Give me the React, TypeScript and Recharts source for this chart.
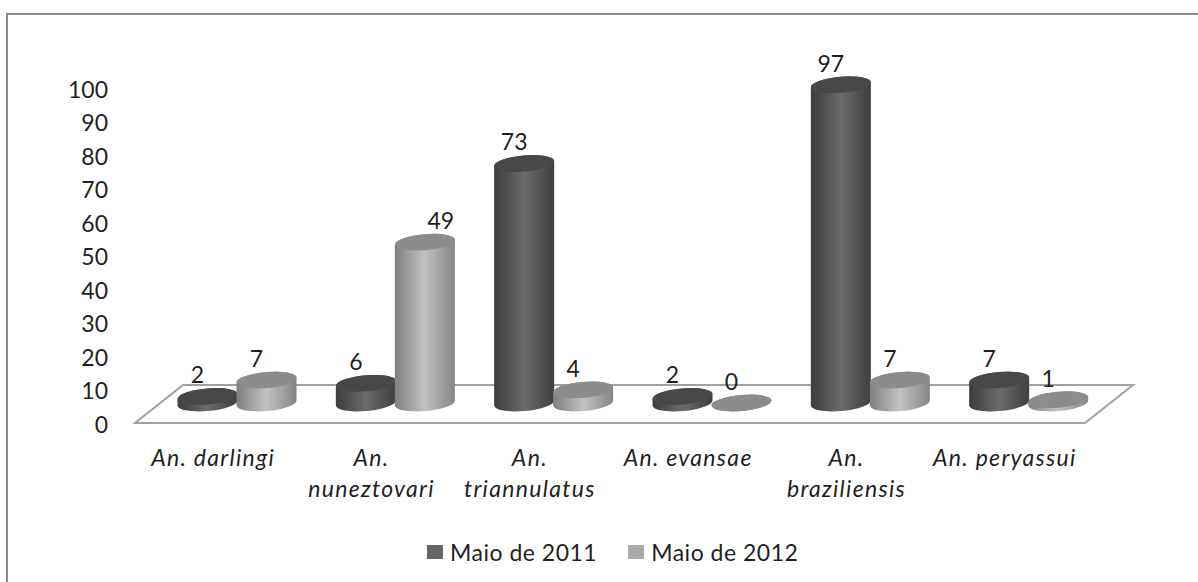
import React from "react";
import { ComposedChart, Bar, Line, XAxis, YAxis, LabelList, Legend } from "recharts";

const categories = ["An. darlingi", "An. nuneztovari", "An. triannulatus", "An. evansae", "An. braziliensis", "An. peryassui"];
const maio2011 = [2, 6, 73, 2, 97, 7];
const maio2012 = [7, 49, 4, 0, 7, 1];
const yTicks = [0, 10, 20, 30, 40, 50, 60, 70, 80, 90, 100];
const rows = categories.map((name, i) => ({ name, maio2011: maio2011[i], maio2012: maio2012[i] }));

const FONT = "Lato, 'Open Sans', sans-serif";
const TEXT = "#1f1f1f";
const RX = 30, RY = 8, TILT = -5, DY = 2.6;

function Cylinder(p: any) {
  const { x, y, width, height, grad, top } = p;
  const cx = x + width / 2, xl = cx - RX, xr = cx + RX;
  const yb = y + height;
  const d = `M${xl},${y + DY} L${xl},${yb + DY} A${RX},${RY} ${TILT} 0 0 ${xr},${yb - DY} L${xr},${y - DY} A${RX},${RY} ${TILT} 0 0 ${xl},${y + DY} Z`;
  return (
    <g>
      <path d={d} fill={`url(#${grad})`} />
      <ellipse cx={cx} cy={y} rx={RX} ry={RY} fill={top} transform={`rotate(${TILT} ${cx} ${y})`} />
    </g>
  );
}

function CatTick({ x, y, payload }: any) {
  const parts = String(payload.value).split(" ");
  const lines = parts[0].length + parts[1].length > 12 ? parts : [payload.value];
  return (
    <text x={x - 24} y={y} textAnchor="middle" fontFamily={FONT} fontStyle="italic" fontSize={23} letterSpacing={1.3} fill={TEXT}>
      {lines.map((l: string, i: number) => (
        <tspan key={i} x={x - 24} dy={i === 0 ? 0 : 31}>{l}</tspan>
      ))}
    </text>
  );
}

function NumTick({ x, y, payload }: any) {
  return (
    <text x={x + 10} y={y + 10} textAnchor="end" fontFamily={FONT} fontSize={23} fill={TEXT}>
      {payload.value}
    </text>
  );
}

const valueLabel = (p: any) => {
  const { x, y, width, value } = p;
  const shift = value === 49 ? 16 : -10;
  return (
    <text x={x + width / 2 + shift} y={y - 13} textAnchor="middle" fontFamily={FONT} fontSize={23} fill={TEXT}>
      {value}
    </text>
  );
};

function LegendBox({ payload }: any) {
  const items = (payload || []).filter((e: any) => e.type !== "none");
  return (
    <div style={{ display: "flex", fontFamily: FONT, fontSize: 23, letterSpacing: 0.5, color: TEXT, lineHeight: "26px" }}>
      {items.map((e: any) => (
        <div key={e.value} style={{ display: "flex", alignItems: "center", marginRight: 31 }}>
          <span style={{ width: 16, height: 14, background: e.color, marginRight: 7, display: "inline-block" }} />
          {e.value}
        </div>
      ))}
    </div>
  );
}

export default function App() {
  return (
    <div style={{ position: "absolute", left: 0, top: 0, width: 1198, height: 582, background: "#fff", overflow: "hidden" }}>
      <div style={{ position: "absolute", left: 6, top: 13, width: 1300, height: 700, border: "2px solid #8a8a8a", boxSizing: "border-box" }} />
      <ComposedChart
        width={1198}
        height={582}
        data={rows}
        margin={{ top: 70, right: 90, bottom: 129, left: 98 }}
        barSize={59}
        barGap={0}
        style={{ position: "absolute", left: 0, top: 0 }}
      >
        <defs>
          <linearGradient id="gDark" x1="0" x2="1" y1="0" y2="0">
            <stop offset="0" stopColor="#3c3c3c" />
            <stop offset="0.5" stopColor="#6b6b6b" />
            <stop offset="1" stopColor="#3f3f3f" />
          </linearGradient>
          <linearGradient id="gLight" x1="0" x2="1" y1="0" y2="0">
            <stop offset="0" stopColor="#7f7f7f" />
            <stop offset="0.5" stopColor="#c2c2c2" />
            <stop offset="1" stopColor="#858585" />
          </linearGradient>
        </defs>
        <polygon points="135,423 183,385 1133,385 1085,423" fill="#fff" stroke="#a0a0a0" strokeWidth={2} />
        <XAxis dataKey="name" axisLine={false} tickLine={false} interval={0} tick={<CatTick />} height={30} tickMargin={37} />
        <YAxis
          yAxisId="left"
          type="number"
          domain={[0, 105.37]}
          ticks={yTicks}
          interval={0}
          axisLine={false}
          tickLine={false}
          width={60}
          tickSize={0}
          tickMargin={0}
          tick={<NumTick />}
        />
        <YAxis yAxisId="bars" type="number" hide domain={[-6.1, 101.5]} />
        <Legend
          layout="horizontal"
          verticalAlign="middle"
          content={<LegendBox />}
          wrapperStyle={{ position: "absolute", left: 427, top: 539, width: 500, bottom: "auto", right: "auto" }}
        />
        <Line yAxisId="left" dataKey="maio2011" legendType="none" stroke="none" dot={false} activeDot={false} isAnimationActive={false} />
        <Bar yAxisId="bars" dataKey="maio2011" name="Maio de 2011" fill="#666666" isAnimationActive={false}
          shape={(p: any) => <Cylinder {...p} grad="gDark" top="#484848" />}>
          <LabelList dataKey="maio2011" content={valueLabel} />
        </Bar>
        <Bar yAxisId="bars" dataKey="maio2012" name="Maio de 2012" fill="#a8a8a8" isAnimationActive={false}
          shape={(p: any) => <Cylinder {...p} grad="gLight" top="#8c8c8c" />}>
          <LabelList dataKey="maio2012" content={valueLabel} />
        </Bar>
      </ComposedChart>
    </div>
  );
}
